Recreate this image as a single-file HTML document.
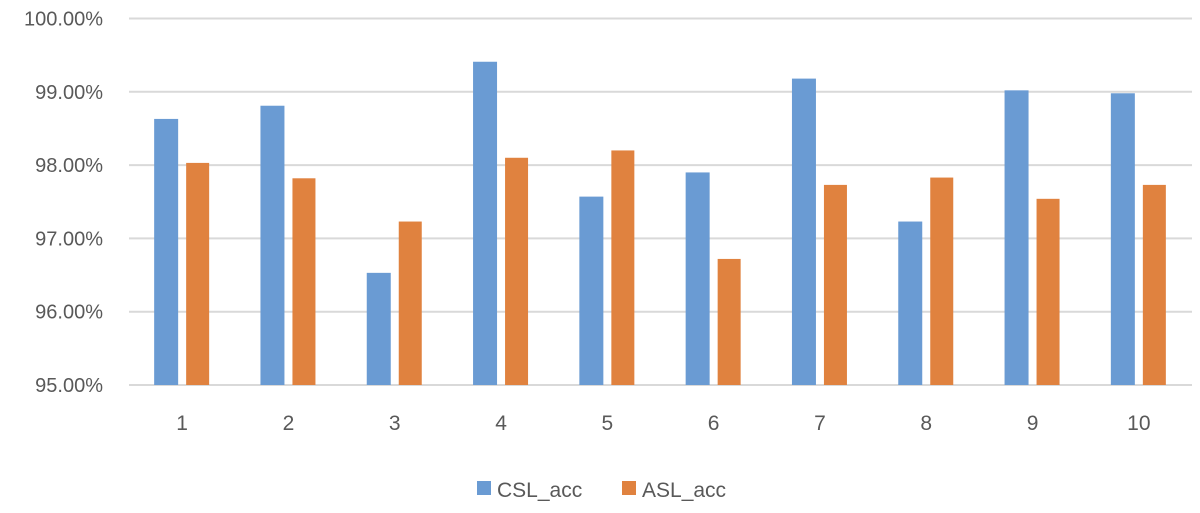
<!DOCTYPE html>
<html><head><meta charset="utf-8"><style>
body{margin:0;background:#fff;width:1200px;height:508px;overflow:hidden;font-family:"Liberation Sans",sans-serif}
text{font-family:"Liberation Sans",sans-serif;fill:#595959}
</style></head><body>
<svg id="chart" width="1200" height="508" viewBox="0 0 1200 508"></svg>
<script>
const categories=["1","2","3","4","5","6","7","8","9","10"];
const cslValues=[98.63,98.81,96.53,99.41,97.57,97.90,99.18,97.23,99.02,98.98];
const aslValues=[98.03,97.82,97.23,98.10,98.20,96.72,97.73,97.83,97.54,97.73];
const yTicks=[95,96,97,98,99,100];
const yTickLabels=["95.00%","96.00%","97.00%","98.00%","99.00%","100.00%"];
const svg=document.getElementById('chart');
const NS='http://www.w3.org/2000/svg';
const x0=129,x1=1192,yMin=95,yMax=100,yBot=385,yTop=18.5;
const y=v=>yBot-(v-yMin)/(yMax-yMin)*(yBot-yTop);
const band=(x1-x0)/categories.length;
const cx=i=>x0+band*(i+0.5);
function mk(t,a){const e=document.createElementNS(NS,t);for(const k in a)e.setAttribute(k,a[k]);svg.appendChild(e);return e;}
yTicks.forEach((v,i)=>{
 const l=mk('line',{x1:x0,x2:x1,y1:y(v),y2:y(v),stroke:'#d9d9d9','stroke-width':2});
 
 
 const t=mk('text',{x:103,y:y(v)+7,'text-anchor':'end','font-size':20});
 t.textContent=yTickLabels[i];
 
 
});
const bw=24,gap=8;
categories.forEach((c,i)=>{
 const c1=cx(i);
 const b1=mk('rect',{x:c1-gap/2-bw,y:y(cslValues[i]),width:bw,height:yBot-y(cslValues[i]),fill:'#6a9bd3'});
 
 
 const b2=mk('rect',{x:c1+gap/2,y:y(aslValues[i]),width:bw-1,height:yBot-y(aslValues[i]),fill:'#e0823f'});
 
 
 const t=mk('text',{x:c1,y:430,'text-anchor':'middle','font-size':21});
 t.textContent=c;
 
 
});
const g=[["#6a9bd3","CSL_acc",477],["#e0823f","ASL_acc",622]];
g.forEach(([col,lab,lx])=>{
 const r=mk('rect',{x:lx,y:481,width:14,height:14,fill:col});
 
 
 const t=mk('text',{x:lx+20,y:497,'font-size':21});
 t.textContent=lab;
 
 
});
</script>
</body></html>
